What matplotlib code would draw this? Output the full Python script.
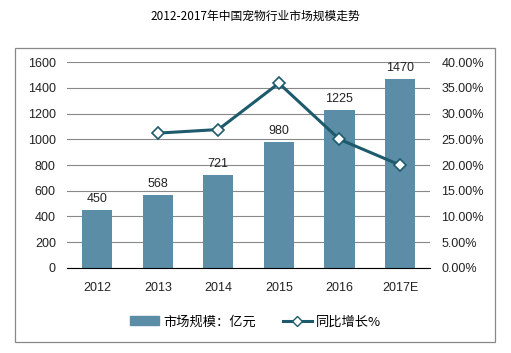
import matplotlib
matplotlib.use("Agg")
import matplotlib.pyplot as plt
from matplotlib.patches import Rectangle
from matplotlib.lines import Line2D
from matplotlib.ticker import FuncFormatter

plt.rcParams['font.family'] = ['Liberation Sans', 'Noto Sans CJK SC', 'DejaVu Sans']

years = ['2012', '2013', '2014', '2015', '2016', '2017E']
market = [450, 568, 721, 980, 1225, 1470]
growth_years = ['2013', '2014', '2015', '2016', '2017E']
growth = [26.2, 26.9, 35.9, 25.0, 20.0]

bar_color = '#5B8DA6'
line_color = '#1D5A6C'

fig = plt.figure(figsize=(5.11, 3.53), dpi=100)
fig.patch.set_facecolor('white')
fig.patches.append(Rectangle((0.029, 0.031), 0.940, 0.833, transform=fig.transFigure,
                             fill=False, edgecolor='#888888', linewidth=0.9))
fig.text(0.5, 0.955, '2012-2017年中国宠物行业市场规模走势', ha='center', va='center',
         fontsize=8.5, family=['Noto Sans CJK SC', 'DejaVu Sans'])

ax = fig.add_axes([0.131, 0.241, 0.711, 0.583])
x = list(range(len(years)))
ax.bar(x, market, width=0.5, color=bar_color, zorder=2)
for xi, v in zip(x, market):
    ax.text(xi, v + 40, str(v), ha='center', va='bottom', fontsize=9, color='#222222')
ax.set_ylim(0, 1600)
ax.set_xlim(-0.5, len(years) - 0.5)
ax.set_yticks(range(0, 1601, 200))
ax.set_xticks(x)
ax.set_xticklabels(years)
ax.grid(axis='y', color='#888888', linewidth=0.8, zorder=0)
ax.set_axisbelow(True)
for s in ['top', 'right', 'left']:
    ax.spines[s].set_visible(False)
ax.spines['bottom'].set_color('black')
ax.tick_params(axis='both', length=0, labelsize=9, colors='#222222', pad=8)
ax.tick_params(axis='x', pad=10)

ax2 = ax.twinx()
gx = [years.index(g) for g in growth_years]
ax2.plot(gx, growth, color=line_color, linewidth=2.2, marker='D', markersize=6,
         markerfacecolor='white', markeredgecolor=line_color, markeredgewidth=1.2, zorder=3)
ax2.set_ylim(0, 40)
ax2.set_yticks(range(0, 41, 5))
ax2.yaxis.set_major_formatter(FuncFormatter(lambda v, p: f'{v:.2f}%'))
for s in ['top', 'right', 'left', 'bottom']:
    ax2.spines[s].set_visible(False)
ax2.tick_params(axis='y', length=0, labelsize=9, colors='#222222', pad=8)

handles = [Rectangle((0, 0), 1, 1, color=bar_color),
           Line2D([0], [0], color=line_color, linewidth=2.2, marker='D', markersize=5,
                  markerfacecolor='white', markeredgecolor=line_color)]
fig.legend(handles, ['市场规模：亿元', '同比增长%'], loc='center', bbox_to_anchor=(0.5, 0.088),
           ncol=2, frameon=False, prop={'family': ['Noto Sans CJK SC', 'DejaVu Sans'], 'size': 9.5},
           handlelength=2.2, columnspacing=2.0, handletextpad=0.3)

fig.savefig('out.png', dpi=100)
